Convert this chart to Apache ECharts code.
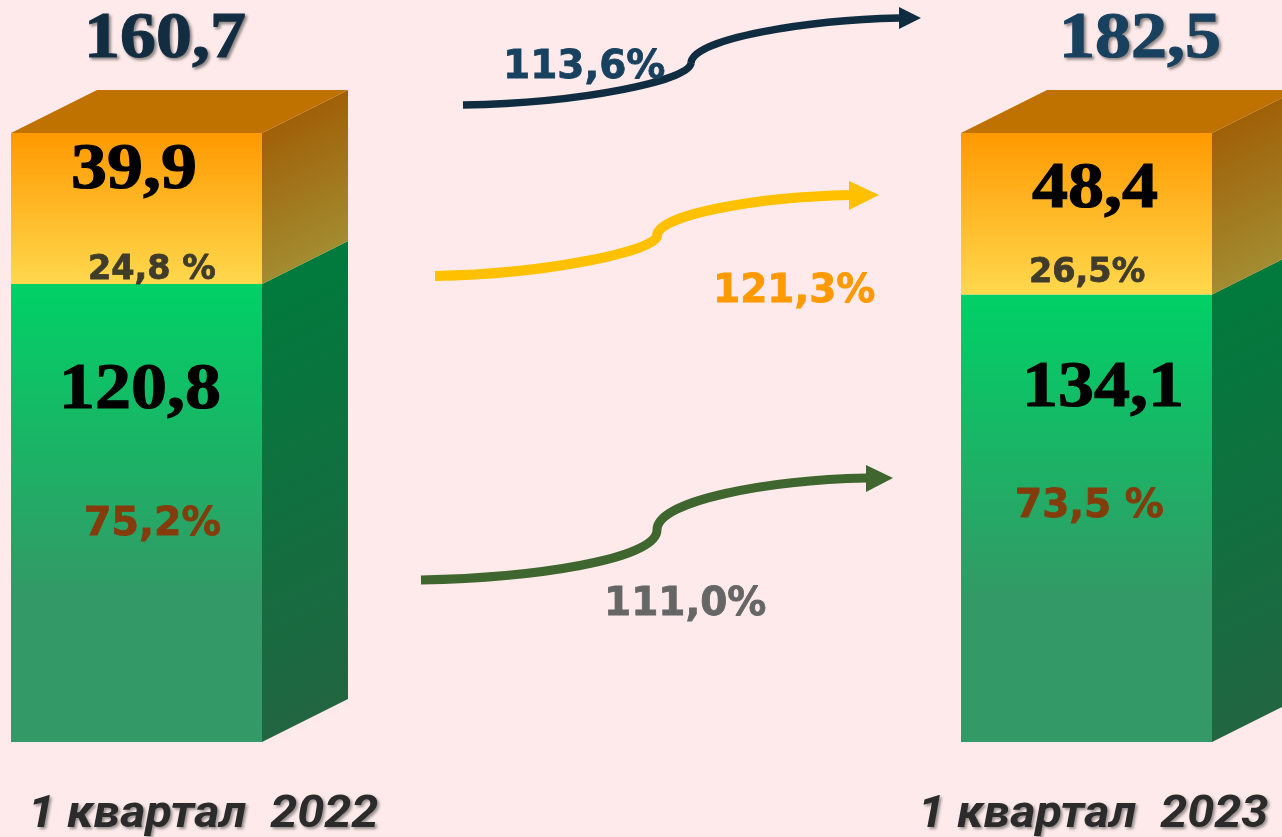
<!DOCTYPE html>
<html>

<head>
    <meta charset="utf-8">
    <title>1 квартал 2022 / 2023</title>
    <script src="https://cdn.jsdelivr.net/npm/echarts@6/dist/echarts.min.js"></script>
    <style>
        html,
        body {
            margin: 0;
            padding: 0;
            background: #feeaea;
            overflow: hidden;
        }

        #main {
            width: 1282px;
            height: 837px;
        }
    </style>
</head>

<body>
    <div id="main"></div>
    <script>
        // значения с картинки
        var categories = ['1 квартал  2022', '1 квартал  2023'];
        var totals = ['160,7', '182,5'];
        var greenValues = ['120,8', '134,1'];
        var orangeValues = ['39,9', '48,4'];
        // доли, по ним строится высота столбцов
        var greenShare = [75.2, 73.5];
        var orangeShare = [24.8, 26.5];
        var greenShareLabels = ['75,2%', '73,5 %'];
        var orangeShareLabels = ['24,8 %', '26,5%'];
        var growthLabels = ['113,6%', '121,3%', '111,0%'];

        var DEPTH_X = 86, DEPTH_Y = 43;

        var myChart = echarts.init(document.getElementById('main'));

        function vGrad(stops) {
            return new echarts.graphic.LinearGradient(0, 0, 0, 1, stops);
        }

        // боковая грань: градиент идёт поперёк скоса
        function sideGrad(x, y, h, from, to) {
            var t = h * 0.4;
            return {
                type: 'linear', global: true,
                x: x, y: y, x2: x + t, y2: y + 2 * t,
                colorStops: [{ offset: 0, color: from }, { offset: 1, color: to }]
            };
        }

        function renderBlock(front, sideFrom, sideTo, withTop) {
            return function (params, api) {
                var idx = api.value(0);
                var lo = api.coord([idx, api.value(1)]);
                var hi = api.coord([idx, api.value(2)]);
                var w = api.size([1, 0])[0] * 0.2642;
                var x0 = lo[0] - w / 2, x1 = lo[0] + w / 2;
                var yb = lo[1], yt = hi[1];
                var children = [
                    {
                        type: 'polygon',
                        shape: { points: [[x1, yt], [x1 + DEPTH_X, yt - DEPTH_Y], [x1 + DEPTH_X, yb - DEPTH_Y], [x1, yb]] },
                        style: { fill: sideGrad(x1, yt, yb - yt, sideFrom, sideTo) }
                    },
                    {
                        type: 'rect',
                        shape: { x: x0, y: yt, width: w, height: yb - yt },
                        style: { fill: front }
                    }
                ];
                if (withTop) {
                    children.push({
                        type: 'polygon',
                        shape: { points: [[x0, yt], [x0 + DEPTH_X, yt - DEPTH_Y], [x1 + DEPTH_X, yt - DEPTH_Y], [x1, yt]] },
                        style: { fill: '#c07200' }
                    });
                }
                return { type: 'group', children: children };
            };
        }

        var greenData = categories.map(function (c, i) { return [i, 0, greenShare[i]]; });
        var orangeData = categories.map(function (c, i) { return [i, greenShare[i], greenShare[i] + orangeShare[i]]; });

        function label(text, x, y, size, color, family, opts) {
            opts = opts || {};
            var style = {
                text: text,
                x: 0, y: 0,
                fill: color,
                font: (opts.italic ? 'italic ' : '') + 'bold ' + size + 'px ' + family,
                textAlign: 'left',
                textVerticalAlign: 'middle'
            };
            // обводка цветом текста делает шрифт плотнее
            if (opts.bold) {
                style.stroke = color;
                style.lineWidth = opts.bold;
            }
            if (opts.shadow) {
                style.textShadowColor = opts.shadow;
                style.textShadowBlur = 3;
                style.textShadowOffsetX = 2;
                style.textShadowOffsetY = 2;
            }
            return { type: 'text', z: 20, x: x, y: y, scaleX: opts.sx || 1, style: style };
        }

        function bezier(p, width, color) {
            return {
                type: 'bezierCurve', z: 10,
                shape: { x1: p[0], y1: p[1], cpx1: p[2], cpy1: p[3], cpx2: p[4], cpy2: p[5], x2: p[6], y2: p[7] },
                style: { fill: 'none', stroke: color, lineWidth: width }
            };
        }

        function arrow(a, b, width, color, head) {
            return [
                bezier(a, width, color),
                bezier(b, width, color),
                { type: 'polygon', z: 10, shape: { points: head }, style: { fill: color } }
            ];
        }

        var SERIF = '"Liberation Serif", serif';
        var SANS = '"DejaVu Sans", sans-serif';
        var CAPTION = 'Roboto, sans-serif';
        var TITLE_SHADOW = 'rgba(60,60,60,0.55)';
        var CAPTION_SHADOW = 'rgba(80,80,80,0.6)';
        var serifOpts = { sx: 1.09, bold: 1.2 };
        var sansOpts = { bold: 0.8 };

        var graphics = [].concat(
            arrow([463, 105, 585, 103, 690, 80, 691, 63], [691, 63, 692, 38, 810, 20, 899, 18], 7.5, '#102c40', [[899, 7], [921, 18], [899, 29]]),
            arrow([435, 276, 550, 274, 657, 250, 657, 236], [657, 236, 657, 214, 760, 197, 850, 195], 10, '#ffc000', [[849, 181], [879, 195], [849, 210]]),
            arrow([421, 580, 530, 578, 657, 560, 657, 530], [657, 530, 657, 500, 770, 480, 867, 478], 9, '#3e662e', [[866, 465], [893, 478], [866, 492]]),
            [
                label(totals[0], 84, 40, 66, '#122d42', SERIF, { shadow: TITLE_SHADOW, sx: 1.09, bold: 1.2 }),
                label(totals[1], 1059, 40, 66, '#17415f', SERIF, { shadow: TITLE_SHADOW, sx: 1.09, bold: 1.2 }),
                label(orangeValues[0], 71, 171, 66, '#000', SERIF, serifOpts),
                label(orangeValues[1], 1032, 190, 66, '#000', SERIF, serifOpts),
                label(greenValues[0], 59, 391, 66, '#000', SERIF, serifOpts),
                label(greenValues[1], 1022, 389, 66, '#000', SERIF, serifOpts),
                label(orangeShareLabels[0], 88, 270, 33.5, '#403c2c', SANS, sansOpts),
                label(orangeShareLabels[1], 1029, 273, 33.5, '#403c2c', SANS, sansOpts),
                label(greenShareLabels[0], 84, 525, 39.5, '#843c0c', SANS, sansOpts),
                label(greenShareLabels[1], 1015, 507, 39, '#843c0c', SANS, sansOpts),
                label(growthLabels[0], 503, 68, 39, '#17415f', SANS, sansOpts),
                label(growthLabels[1], 713, 292, 39, '#ff9900', SANS, sansOpts),
                label(growthLabels[2], 604, 605, 39, '#666666', SANS, sansOpts),
                label(categories[0], 28, 816, 45, '#2b2b2b', CAPTION, { shadow: CAPTION_SHADOW, italic: true, sx: 1.08 }),
                label(categories[1], 918, 816, 45, '#2b2b2b', CAPTION, { shadow: CAPTION_SHADOW, italic: true, sx: 1.08 })
            ]
        );

        var option = {
            backgroundColor: '#feeaea',
            animation: false,
            grid: { left: 0, right: 0, top: 133, bottom: 95 },
            // столбцы стоят на 0 и 1, границы подобраны под их центры
            xAxis: { type: 'value', min: -0.14368, max: 1.20579, show: false },
            yAxis: { type: 'value', min: 0, max: 100, show: false },
            series: [
                {
                    type: 'custom',
                    encode: { x: 0, y: 2 },
                    data: greenData,
                    renderItem: renderBlock(vGrad([
                        { offset: 0, color: '#00d166' },
                        { offset: 0.68, color: '#339966' },
                        { offset: 1, color: '#339966' }
                    ]), '#007a3d', '#216641', false)
                },
                {
                    type: 'custom',
                    encode: { x: 0, y: 2 },
                    data: orangeData,
                    renderItem: renderBlock(vGrad([
                        { offset: 0, color: '#ff9900' },
                        { offset: 1, color: '#ffd84d' }
                    ]), '#a06008', '#a38c30', true)
                }
            ],
            graphic: { elements: graphics }
        };

        myChart.setOption(option);
    </script>
</body>

</html>
